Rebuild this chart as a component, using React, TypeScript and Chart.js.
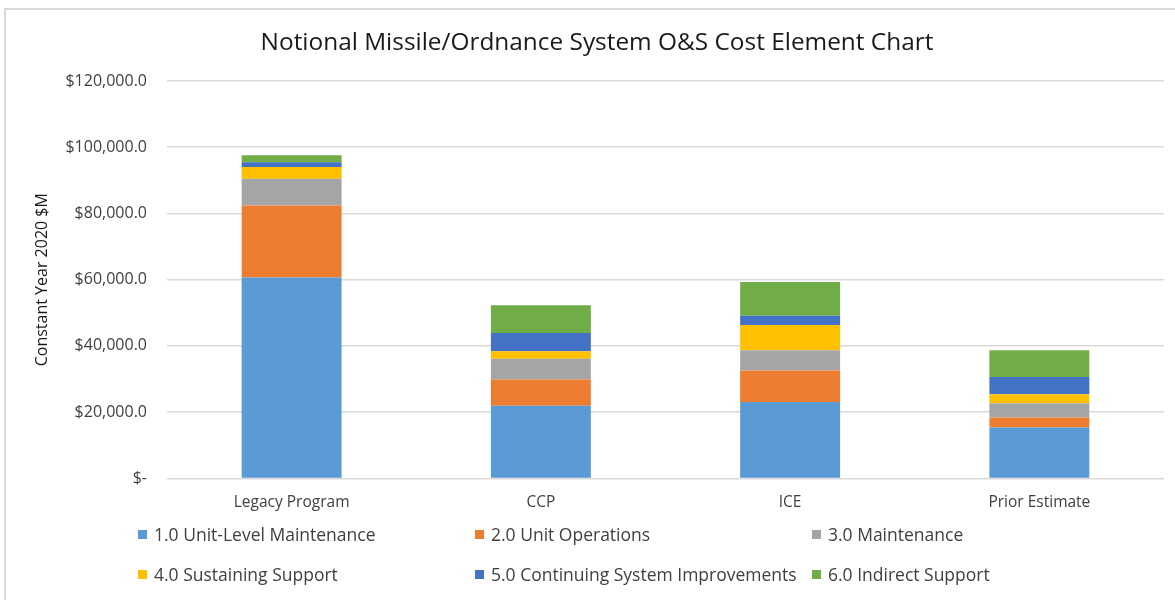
import React, { useEffect, useRef } from "react";
import { Chart, registerables } from "chart.js";

Chart.register(...registerables);

const categories = ["Legacy Program", "CCP", "ICE", "Prior Estimate"];
const unitLevelMaintenance = [60700, 21900, 23100, 15400];
const unitOperations = [21700, 8000, 9500, 3000];
const maintenance = [8100, 6200, 6100, 4300];
const sustainingSupport = [3500, 2300, 7600, 2700];
const continuingSystemImprovements = [1500, 5500, 2800, 5200];
const indirectSupport = [2100, 8400, 10200, 8100];

const seriesNames = [
  "1.0 Unit-Level Maintenance",
  "2.0 Unit Operations",
  "3.0 Maintenance",
  "4.0 Sustaining Support",
  "5.0 Continuing System Improvements",
  "6.0 Indirect Support",
];
const seriesValues = [
  unitLevelMaintenance,
  unitOperations,
  maintenance,
  sustainingSupport,
  continuingSystemImprovements,
  indirectSupport,
];
const seriesColors = ["#5B9BD5", "#ED7D31", "#A5A5A5", "#FFC000", "#4472C4", "#70AD47"];

const chartTitle = "Notional Missile/Ordnance System O&S Cost Element Chart";
const yAxisTitle = "Constant Year 2020 $M";
const yMin = 0;
const yMax = 120000;
const yStep = 20000;

const FONT = "'Open Sans', sans-serif";

function formatTick(v: number): string {
  if (v === 0) return "$-";
  return "$" + v.toLocaleString("en-US", { minimumFractionDigits: 1, maximumFractionDigits: 1 });
}

export default function App() {
  const canvasRef = useRef<HTMLCanvasElement | null>(null);

  useEffect(() => {
    if (!canvasRef.current) return;
    const chart = new Chart(canvasRef.current, {
      type: "bar",
      data: {
        labels: categories,
        datasets: seriesNames.map((name, i) => ({
          label: name,
          data: seriesValues[i],
          backgroundColor: seriesColors[i],
          borderWidth: 0,
          barPercentage: 0.401,
          categoryPercentage: 1,
        })),
      },
      options: {
        animation: false,
        responsive: false,
        maintainAspectRatio: false,
        layout: { padding: { left: 10, top: 81, right: 11, bottom: 81 } },
        plugins: {
          legend: { display: false },
          tooltip: { enabled: false },
          title: { display: false },
        },
        scales: {
          x: {
            stacked: true,
            grid: { display: false },
            border: { display: false },
            ticks: {
              color: "#404040",
              font: { family: FONT, size: 15.5 },
              padding: 7,
            },
          },
          y: {
            stacked: true,
            min: yMin,
            max: yMax,
            border: { display: false },
            grid: { color: "#d9d9d9", lineWidth: 1.5, drawTicks: false },
            afterFit: (scale: any) => {
              scale.width = 157;
            },
            ticks: {
              stepSize: yStep,
              color: "#404040",
              font: { family: FONT, size: 16 },
              padding: 20,
              callback: (v: any) => formatTick(Number(v)),
            },
            title: {
              display: true,
              text: yAxisTitle,
              color: "#1a1a1a",
              font: { family: FONT, size: 16 },
              padding: { top: 23, bottom: 0 },
            },
          },
        },
      },
    } as any);
    return () => chart.destroy();
  }, []);

  return (
    <div
      style={{
        position: "fixed",
        left: 0,
        top: 0,
        width: 1175,
        height: 600,
        background: "#ffffff",
        overflow: "hidden",
        fontFamily: FONT,
      }}
    >
      <div
        style={{
          position: "absolute",
          left: 4,
          top: 8,
          width: 1300,
          height: 800,
          border: "2px solid #d9d9d9",
          boxSizing: "border-box",
        }}
      />
      <canvas ref={canvasRef} width={1175} height={600} style={{ position: "absolute", left: 0, top: 0 }} />
      <div
        style={{
          position: "absolute",
          left: 97,
          width: 1000,
          top: 26,
          textAlign: "center",
          fontSize: 24.4,
          lineHeight: "30px",
          color: "#1a1a1a",
          whiteSpace: "nowrap",
        }}
      >
        {chartTitle}
      </div>
      <div
        style={{
          position: "absolute",
          left: 138,
          top: 524,
          display: "grid",
          gridTemplateColumns: "337px 337px auto",
          rowGap: 20,
        }}
      >
        {seriesNames.map((name, i) => (
          <div key={name} style={{ display: "flex", alignItems: "center", height: 20, whiteSpace: "nowrap" }}>
            <span
              style={{
                display: "inline-block",
                width: 9,
                height: 9,
                background: seriesColors[i],
                marginRight: 7,
              }}
            />
            <span style={{ fontSize: 17.5, color: "#404040", lineHeight: "20px" }}>{name}</span>
          </div>
        ))}
      </div>
    </div>
  );
}
